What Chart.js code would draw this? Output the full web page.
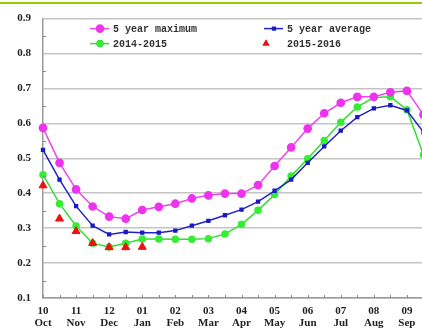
<!DOCTYPE html>
<html>
<head>
<meta charset="utf-8">
<script src="https://cdn.jsdelivr.net/npm/chart.js@4.4.1/dist/chart.umd.min.js"></script>
<style>
  html, body { margin:0; padding:0; background:#fff; overflow:hidden; }
  #wrap { position:relative; width:422px; height:332px; overflow:hidden; }
  #topline { position:absolute; left:0; top:2px; width:422px; height:2px; background:#99cc00; }
  #grafica { position:absolute; left:0; top:0; }
</style>
</head>
<body>
<div id="wrap">
  <canvas id="grafica" width="460" height="332"></canvas>
  <div id="topline"></div>
</div>
<script>
// Datos (medio mes por punto, Oct -> Sep)
const meses    = ["Oct","Nov","Dec","Jan","Feb","Mar","Apr","May","Jun","Jul","Aug","Sep"];
const numMes   = ["10","11","12","01","02","03","04","05","06","07","08","09"];
const max5     = [0.587,0.487,0.411,0.362,0.333,0.327,0.352,0.361,0.370,0.385,0.394,0.399,
                  0.399,0.423,0.478,0.531,0.585,0.629,0.659,0.676,0.676,0.689,0.693,0.625];
const avg5     = [0.524,0.439,0.363,0.307,0.282,0.289,0.287,0.287,0.293,0.307,0.321,0.337,
                  0.353,0.376,0.407,0.439,0.487,0.534,0.579,0.618,0.643,0.652,0.637,0.575];
const y1415    = [0.453,0.370,0.306,0.257,0.246,0.257,0.269,0.269,0.268,0.268,0.270,0.283,
                  0.311,0.351,0.396,0.449,0.499,0.551,0.603,0.647,0.674,0.676,0.639,0.51];
const y1516    = [0.422,0.327,0.291,0.257,0.245,0.245,0.246];
const yTicks   = [0.1,0.2,0.3,0.4,0.5,0.6,0.7,0.8,0.9];

// etiquetas: una por medio mes, texto solo en el mes
const labels = [];
meses.forEach((m,i)=>{ labels.push([numMes[i], m]); labels.push(""); });
labels.push("");

const serif = "'Liberation Serif', 'Times New Roman', serif";

// ticks cortos hacia dentro y leyenda dentro del area
const extras = {
  id: "extras",
  afterDraw(chart) {
    const ctx = chart.ctx, a = chart.chartArea;
    const xs = chart.scales.x, ys = chart.scales.y;
    ctx.save();
    ctx.strokeStyle = "#888"; ctx.lineWidth = 1;
    for (let i = 0; i < labels.length; i++) {
      const px = Math.round(xs.getPixelForValue(i)) + 0.5;
      ctx.beginPath(); ctx.moveTo(px, a.bottom); ctx.lineTo(px, a.bottom - 3); ctx.stroke();
    }
    for (let v = 0.15; v < 0.9; v += 0.1) {
      const py = Math.round(ys.getPixelForValue(v)) + 0.5;
      ctx.beginPath(); ctx.moveTo(a.left, py); ctx.lineTo(a.left + 3, py); ctx.stroke();
    }

    // leyenda 2x2
    const items = [
      { ds:1, x:a.left + 70,  y:a.top + 10 },
      { ds:2, x:a.left + 244, y:a.top + 10 },
      { ds:3, x:a.left + 70,  y:a.top + 25 },
      { ds:0, x:a.left + 244, y:a.top + 25 }
    ];
    ctx.font = "bold 10px 'Liberation Mono', monospace";
    ctx.textBaseline = "middle";
    items.forEach(it=>{
      const d = chart.data.datasets[it.ds];
      if (d.showLine !== false) {
        ctx.strokeStyle = d.borderColor; ctx.lineWidth = 1.5;
        ctx.beginPath(); ctx.moveTo(it.x - 23, it.y); ctx.lineTo(it.x - 4, it.y); ctx.stroke();
        Chart.helpers.drawPoint(ctx, { pointStyle:d.pointStyle, radius:d.pointRadius, borderWidth:1 }, it.x - 13, it.y);
        ctx.fillStyle = d.pointBackgroundColor;
        ctx.fill();
      } else {
        ctx.fillStyle = d.pointBackgroundColor;
        Chart.helpers.drawPoint(ctx, { pointStyle:d.pointStyle, radius:4, borderWidth:0 }, it.x - 21, it.y);
        ctx.fill();
      }
      ctx.fillStyle = "#333";
      ctx.fillText(d.label, it.x, it.y + 1);
    });
    ctx.restore();
  }
};

new Chart(document.getElementById("grafica"), {
  type: "line",
  data: {
    labels: labels,
    datasets: [
      { label:"2015-2016", data:y1516, showLine:false, pointStyle:"triangle", pointRadius:4.6,
        pointBackgroundColor:"#ee1111", pointBorderColor:"#ee1111", borderColor:"#ee1111", clip:false },
      { label:"5 year maximum", data:max5, borderColor:"#ee44ee", borderWidth:1.5, pointStyle:"circle",
        pointRadius:3.6, pointBackgroundColor:"#ee33ee", pointBorderColor:"#ee33ee", clip:false },
      { label:"5 year average", data:avg5, borderColor:"#2222cc", borderWidth:1.5, pointStyle:"rect",
        pointRadius:2, pointBackgroundColor:"#1a1ac0", pointBorderColor:"#1a1ac0", clip:false },
      { label:"2014-2015", data:y1415, borderColor:"#33dd33", borderWidth:1.5, pointStyle:"circle",
        pointRadius:3, pointBackgroundColor:"#33ee33", pointBorderColor:"#33ee33", clip:false }
    ]
  },
  options: {
    responsive:false, animation:false,
    layout:{ padding:{ top:16, left:0, right:20, bottom:0 } },
    plugins:{ legend:{ display:false }, tooltip:{ enabled:false } },
    elements:{ line:{ tension:0 }, point:{ borderWidth:1 } },
    scales:{
      x:{
        grid:{ display:false, drawTicks:false },
        border:{ display:true, color:"#999", width:1.5 },
        ticks:{ autoSkip:false, maxRotation:0, padding:7, color:"#222",
                font:{ family:serif, size:11, weight:"bold", lineHeight:1.1 } },
        afterFit(s){ s.height = 34; }
      },
      y:{
        min:0.1, max:0.9,
        afterBuildTicks(s){ s.ticks = yTicks.map(v=>({ value:v })); },
        grid:{ color:"#c4c4c4", lineWidth:1.5, drawTicks:false },
        border:{ display:true, color:"#999", width:1.5 },
        ticks:{ padding:12, color:"#222", callback:v=>v.toFixed(1),
                font:{ family:serif, size:11, weight:"bold" } },
        afterFit(s){ s.width = 43; }
      }
    }
  },
  plugins:[extras]
});
</script>
</body>
</html>
